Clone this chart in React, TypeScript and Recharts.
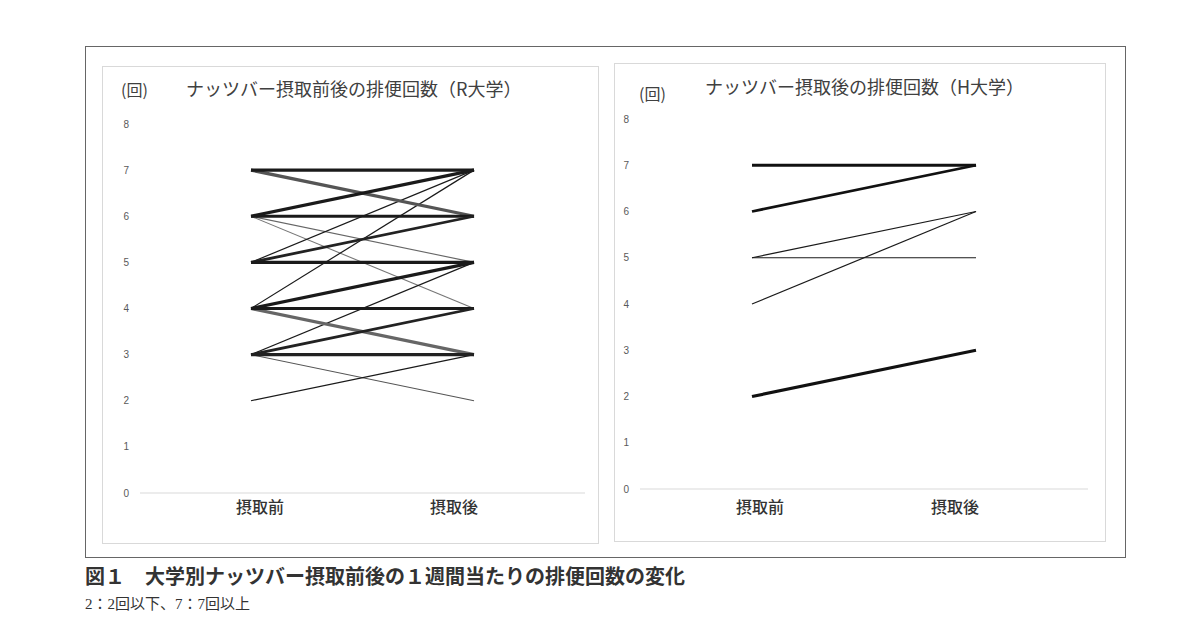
import React from 'react';
import { LineChart, Line, XAxis, YAxis } from 'recharts';

// ---- data ----
const categories = ['摂取前', '摂取後'];
const yTicks = [0, 1, 2, 3, 4, 5, 6, 7, 8];

// R大学: one entry per student line (before → after)
const rBefore = [6, 6, 3, 5, 4, 3, 2, 7, 4, 7, 6, 6, 5, 5, 4, 4, 3, 3];
const rAfter = [5, 4, 2, 7, 7, 5, 3, 6, 3, 7, 7, 6, 6, 5, 5, 4, 4, 3];

// H大学
const hBefore = [5, 5, 4, 7, 6, 2];
const hAfter = [6, 5, 6, 7, 7, 3];

// ---- styles (kept separate from the values) ----
const rWidth = [1.1, 1.1, 1.1, 1.2, 1.2, 1.2, 1.2, 3.2, 3.2, 3.2, 3.2, 3.2, 2.8, 3.2, 3.2, 3.2, 2.8, 3.2];
const rColor = ['#666', '#777', '#555', '#1a1a1a', '#1a1a1a', '#1a1a1a', '#1a1a1a', '#555', '#666', '#1a1a1a', '#1a1a1a', '#1a1a1a', '#222', '#1a1a1a', '#1a1a1a', '#1a1a1a', '#222', '#222'];
const hWidth = [1.2, 1.2, 1.2, 3.2, 2.8, 3.2];
const hColor = ['#1a1a1a', '#1a1a1a', '#1a1a1a', '#111', '#111', '#111'];

function buildRows(before: number[], after: number[]) {
  return categories.map((c, i) => {
    const row: Record<string, string | number> = { cat: c };
    before.forEach((b, k) => {
      row['s' + k] = i === 0 ? b : after[k];
    });
    return row;
  });
}

const rData = buildRows(rBefore, rAfter);
const hData = buildRows(hBefore, hAfter);

const tickFont = '"Liberation Sans Narrow", "Liberation Sans", "Noto Sans", sans-serif';
const cjk = '"Noto Sans CJK JP", "Noto Sans", sans-serif';

function CatTick(props: any) {
  const { x, y, payload, index, shifts, dy } = props;
  return (
    <text
      x={x + shifts[index]}
      y={y + dy}
      textAnchor="middle"
      fontFamily={cjk}
      fontSize={16}
      fontWeight={500}
      fill="#333"
    >
      {payload.value}
    </text>
  );
}

function Panel(props: {
  data: Record<string, string | number>[];
  count: number;
  widths: number[];
  colors: string[];
  width: number;
  height: number;
  yAxisWidth: number;
  margin: { top: number; right: number; bottom: number; left: number };
  pad: number;
  shifts: number[];
  labelDy: number;
}) {
  const keys = Array.from({ length: props.count }, (_, k) => 's' + k);
  return (
    <LineChart width={props.width} height={props.height} data={props.data} margin={props.margin}>
      <XAxis
        dataKey="cat"
        scale="point"
        padding={{ left: props.pad, right: props.pad }}
        axisLine={{ stroke: '#d9d9d9', strokeWidth: 1 }}
        tickLine={false}
        height={30}
        interval={0}
        tick={<CatTick shifts={props.shifts} dy={props.labelDy} />}
      />
      <YAxis
        domain={[0, 8]}
        ticks={yTicks}
        interval={0}
        width={props.yAxisWidth}
        axisLine={false}
        tickLine={false}
        tickMargin={5}
        tick={{ fontSize: 10, fill: '#595959', fontFamily: tickFont }}
      />
      {keys.map((k, i) => (
        <Line
          key={k}
          dataKey={k}
          stroke={props.colors[i]}
          strokeWidth={props.widths[i]}
          dot={false}
          activeDot={false}
          isAnimationActive={false}
        />
      ))}
    </LineChart>
  );
}

export default function App() {
  return (
    <div
      style={{
        position: 'absolute',
        left: 0,
        top: 0,
        width: 1200,
        height: 636,
        background: '#fff',
        fontFamily: cjk,
      }}
    >
      {/* outer frame */}
      <div
        style={{
          position: 'absolute',
          left: 85,
          top: 46,
          width: 1039,
          height: 510,
          border: '1px solid #666',
        }}
      />
      {/* left panel */}
      <div
        style={{
          position: 'absolute',
          left: 102,
          top: 66,
          width: 495,
          height: 476,
          border: '1px solid #d9d9d9',
        }}
      />
      <div style={{ position: 'absolute', left: 102, top: 66 }}>
        <Panel
          data={rData}
          count={rBefore.length}
          widths={rWidth}
          colors={rColor}
          width={496}
          height={477}
          yAxisWidth={38}
          margin={{ top: 58, right: 13, bottom: 20, left: 0 }}
          pad={111}
          shifts={[9, -20]}
          labelDy={12}
        />
      </div>
      <div style={{ position: 'absolute', left: 121, top: 77, fontSize: 16, color: '#404040', whiteSpace: 'nowrap' }}>
        (回)
      </div>
      <div style={{ position: 'absolute', left: 186, top: 75, fontSize: 18, color: '#404040', whiteSpace: 'nowrap' }}>
        ナッツバー摂取前後の排便回数（R大学）
      </div>

      {/* right panel */}
      <div
        style={{
          position: 'absolute',
          left: 614,
          top: 63,
          width: 490,
          height: 477,
          border: '1px solid #d9d9d9',
        }}
      />
      <div style={{ position: 'absolute', left: 614, top: 63 }}>
        <Panel
          data={hData}
          count={hBefore.length}
          widths={hWidth}
          colors={hColor}
          width={491}
          height={478}
          yAxisWidth={26}
          margin={{ top: 56, right: 17, bottom: 22, left: 0 }}
          pad={112}
          shifts={[8, -21]}
          labelDy={16}
        />
      </div>
      <div style={{ position: 'absolute', left: 639, top: 81, fontSize: 16, color: '#404040', whiteSpace: 'nowrap' }}>
        (回)
      </div>
      <div style={{ position: 'absolute', left: 705, top: 73, fontSize: 18, color: '#404040', whiteSpace: 'nowrap' }}>
        ナッツバー摂取後の排便回数（H大学）
      </div>

      {/* captions */}
      <div
        style={{
          position: 'absolute',
          left: 85,
          top: 563,
          fontSize: 20,
          fontWeight: 700,
          color: '#333',
          whiteSpace: 'nowrap',
          lineHeight: '26px',
        }}
      >
        図１　大学別ナッツバー摂取前後の１週間当たりの排便回数の変化
      </div>
      <div
        style={{
          position: 'absolute',
          left: 85,
          top: 594,
          fontSize: 15,
          color: '#333',
          whiteSpace: 'nowrap',
          fontFamily: '"Liberation Serif", "DejaVu Serif", "Noto Sans CJK JP", serif',
          lineHeight: '20px',
        }}
      >
        2：2回以下、7：7回以上
      </div>
    </div>
  );
}
